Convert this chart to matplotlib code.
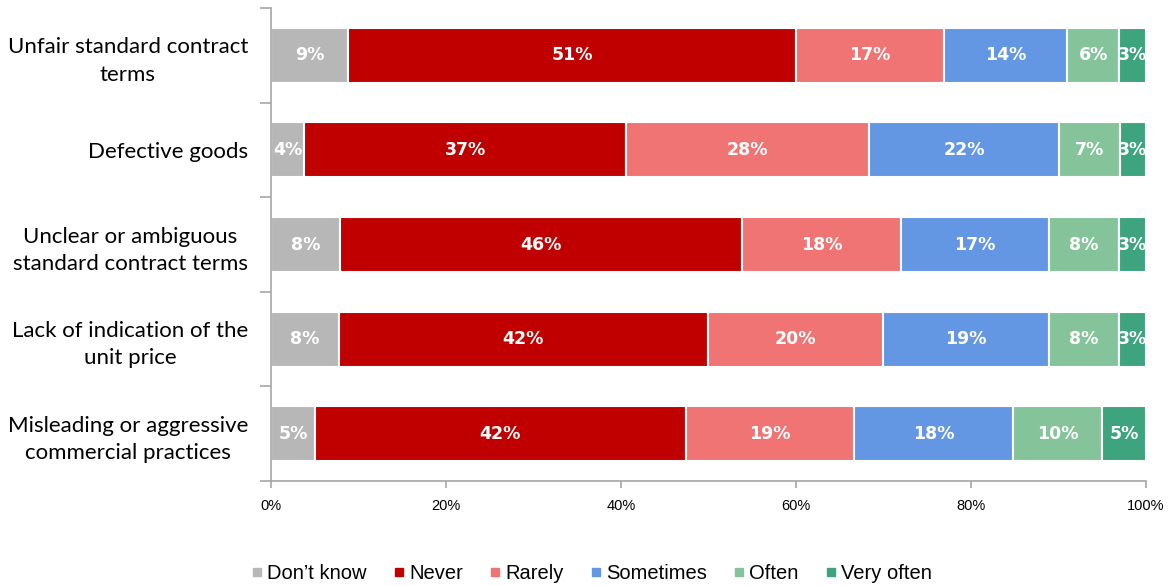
import matplotlib
matplotlib.use('Agg')
import matplotlib.pyplot as plt
from matplotlib.lines import Line2D
import numpy as np


categories = [
    'Unfair standard contract\nterms',
    'Defective goods',
    'Unclear or ambiguous\nstandard contract terms',
    'Lack of indication of the\nunit price',
    'Misleading or aggressive\ncommercial practices',
]

series_names = ['Don\u2019t know', 'Never', 'Rarely', 'Sometimes', 'Often', 'Very often']

dont_know = [8.8, 3.8, 7.9, 7.8, 5.0]
never = [51.2, 36.8, 45.9, 42.1, 42.4]
rarely = [16.9, 27.7, 18.2, 20.0, 19.2]
sometimes = [14.1, 21.8, 16.9, 19.0, 18.2]
often = [5.9, 6.9, 8.0, 8.0, 10.2]
very_often = [3.1, 3.0, 3.1, 3.1, 5.0]

colors = ['#B7B7B7', '#C00000', '#F07474', '#6497E3', '#85C49B', '#3DA47E']

x_ticks = [0, 20, 40, 60, 80, 100]


fig = plt.figure(figsize=(11.76, 5.86), dpi=100)
ax = fig.add_axes([0.2304, 0.1792, 0.7441, 0.8071])

series = [dont_know, never, rarely, sometimes, often, very_often]
y = np.arange(len(categories))
left = np.zeros(len(categories))
for name, values, color in zip(series_names, series, colors):
    values = np.array(values)
    ax.barh(y, values, left=left, height=0.58, color=color,
            edgecolor='white', linewidth=1.5, label=name)
    for yi, l, v in zip(y, left, values):
        ax.text(l + v / 2, yi, f'{round(v):d}%', ha='center', va='center',
                color='white', fontsize=12.5, fontweight='bold',
                family='DejaVu Sans', clip_on=True)
    left += values

ax.set_xlim(0, 100)
ax.set_ylim(len(categories) - 0.5, -0.5)

ax.set_xticks(x_ticks)
ax.set_xticklabels([f'{t}%' for t in x_ticks], family='Liberation Sans', fontsize=10.5)
ax.set_yticks(y)
ax.set_yticklabels(categories, family='Lato', fontsize=16, ha='right',
                   multialignment='center', linespacing=1.45)
ax.tick_params(axis='y', which='major', length=0, pad=16.5)
ax.set_yticks(np.arange(-0.5, len(categories)), minor=True)
ax.tick_params(axis='y', which='minor', length=8, color='#A6A6A6', width=1.2)
ax.tick_params(axis='x', length=5, color='#A6A6A6', width=1.2, pad=8)

for side in ['top', 'right']:
    ax.spines[side].set_visible(False)
for side in ['left', 'bottom']:
    ax.spines[side].set_color('#A6A6A6')
    ax.spines[side].set_linewidth(1.2)

handles = [Line2D([], [], marker='s', linestyle='', color=c, markersize=5.5)
           for c in colors]
fig.legend(handles, series_names, loc='center', bbox_to_anchor=(0.502, 0.022),
           ncol=6, frameon=False, prop={'family': 'Liberation Sans', 'size': 14.5},
           handletextpad=0.1, columnspacing=1.2, handlelength=0.8)

plt.savefig('out.png', dpi=100)
plt.close()
